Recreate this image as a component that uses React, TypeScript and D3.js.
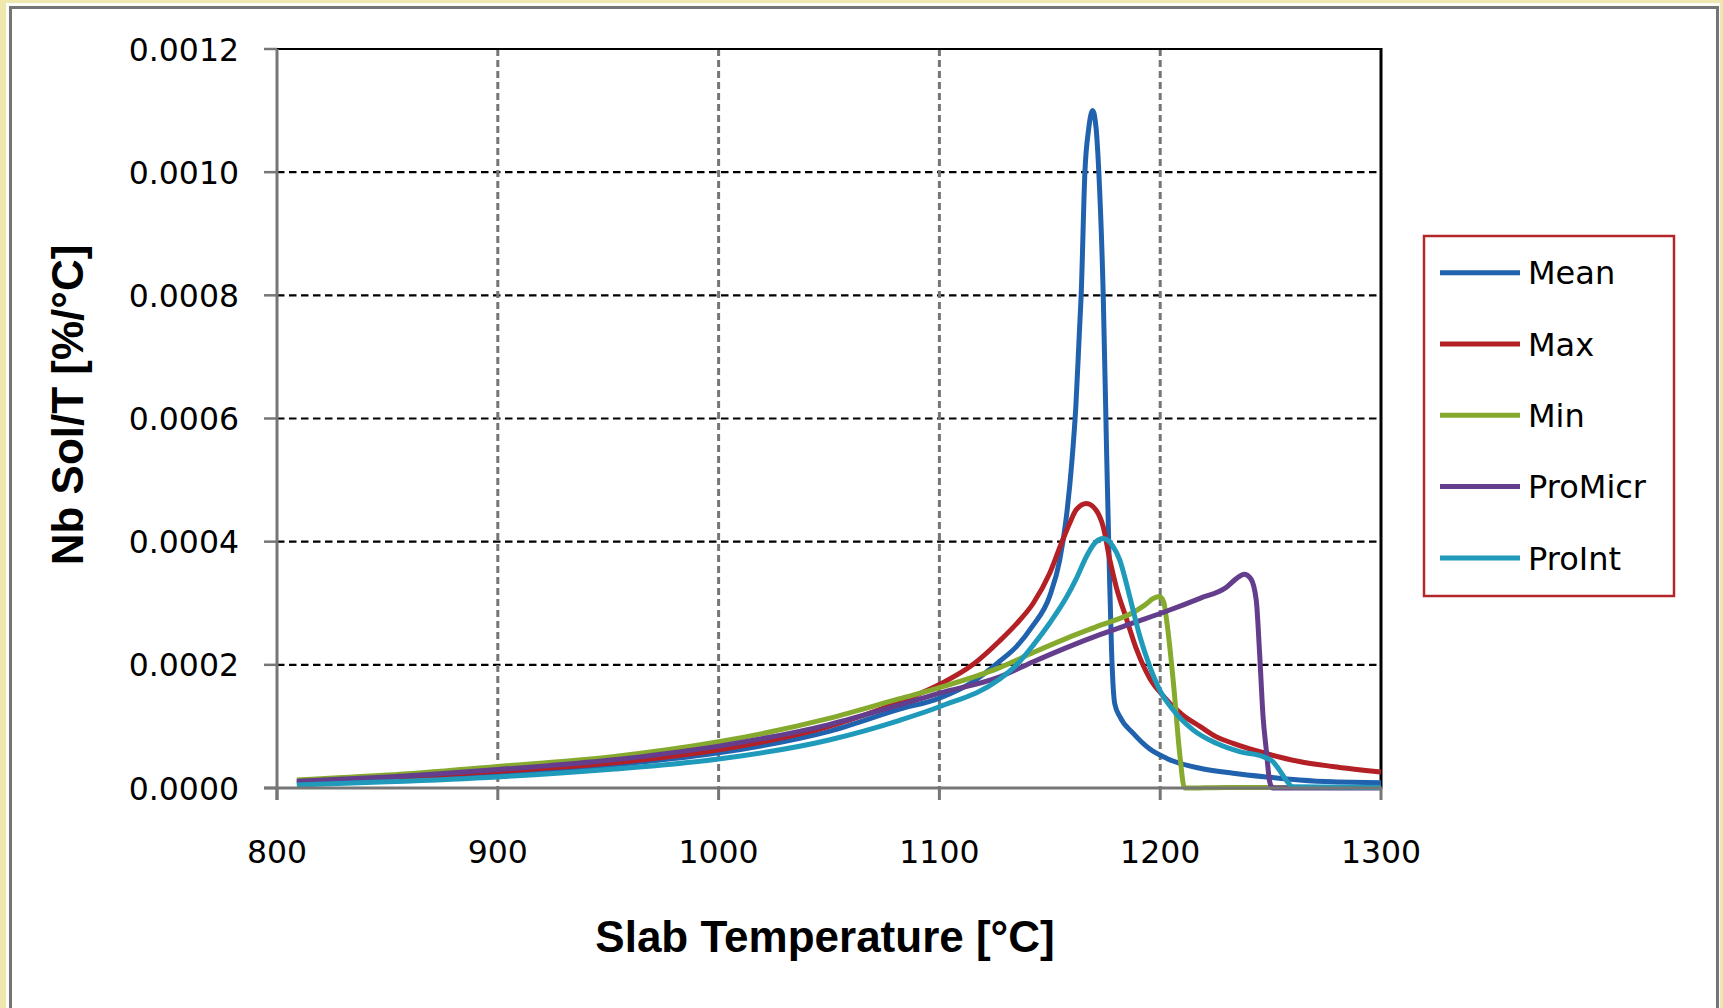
import React, { useEffect, useRef } from 'react';
import * as d3 from 'd3';

type Pt = [number, number];

const tempTicks = [800, 900, 1000, 1100, 1200, 1300];
const solTicks = [0, 0.0002, 0.0004, 0.0006, 0.0008, 0.001, 0.0012];

// [temperature °C, Nb sol/T %/°C]
const meanPts: Pt[] = [
  [809, 0.000008], [850, 0.000014], [900, 0.000024], [950, 0.000037], [1000, 0.000057],
  [1050, 0.000092], [1082, 0.000128], [1100, 0.000146], [1115, 0.000172], [1127, 0.000205],
  [1135, 0.00023], [1142, 0.000262], [1150, 0.000312], [1154.5, 0.00037], [1157.5, 0.00044],
  [1160, 0.00053], [1161.8, 0.00062], [1163.4, 0.00074], [1164.2, 0.0008], [1165.9, 0.001],
  [1167.6, 0.00107], [1169.4, 0.0011], [1171, 0.00107], [1172.2, 0.001], [1174.2, 0.0008],
  [1175.7, 0.00055], [1177, 0.00035], [1178, 0.00022], [1179.4, 0.000137], [1181.7, 0.000116],
  [1187.7, 0.000089], [1195, 0.000064], [1203, 0.000048], [1218, 0.000032], [1233, 0.000024],
  [1248, 0.000018], [1263, 0.000013], [1278, 0.00001], [1300, 0.0000087]
];
const maxPts: Pt[] = [
  [809, 0.0000095], [850, 0.000016], [900, 0.000027], [950, 0.00004], [1000, 0.000062],
  [1050, 0.0001], [1082, 0.00014], [1100, 0.000168], [1115, 0.0002], [1127, 0.000238],
  [1135, 0.000267], [1142.5, 0.0003], [1150, 0.000349], [1155, 0.000395], [1159, 0.00043],
  [1162, 0.000452], [1166.6, 0.000462], [1171, 0.000451], [1174.2, 0.000424], [1177.2, 0.00037],
  [1180.2, 0.000325], [1184.7, 0.000275], [1189.3, 0.000225], [1195.3, 0.000178], [1200, 0.000155],
  [1210, 0.000119], [1218, 0.0001], [1225.5, 0.000083], [1233, 0.0000725], [1248, 0.000056],
  [1263, 0.000043], [1278, 0.000035], [1300, 0.000026]
];
const minPts: Pt[] = [
  [809, 0.000013], [850, 0.000021], [900, 0.000035], [950, 0.00005], [1000, 0.000075],
  [1050, 0.000113], [1082, 0.000145], [1100, 0.000163], [1127, 0.000195], [1142.5, 0.00022],
  [1157.6, 0.000243], [1172.7, 0.000264], [1187.7, 0.000285], [1193, 0.000297], [1197, 0.000308],
  [1199.5, 0.000311], [1201.5, 0.000303], [1203, 0.00027], [1206, 0.00017], [1209, 0.00005],
  [1211, 0], [1230, 0.000001], [1300, 0.000001]
];
const proMicrPts: Pt[] = [
  [809, 0.000011], [850, 0.000018], [900, 0.00003], [950, 0.000045], [1000, 0.000068],
  [1050, 0.000103], [1082, 0.000135], [1100, 0.000154], [1127, 0.00018], [1142.5, 0.000205],
  [1157.6, 0.000228], [1172.7, 0.000249], [1187.7, 0.000268], [1202.8, 0.000287], [1218, 0.000308],
  [1230, 0.000326], [1234.5, 0.00034], [1238, 0.000347], [1241, 0.00034], [1243.5, 0.000305],
  [1245, 0.00022], [1246.6, 0.000115], [1248.1, 0.00006], [1249.6, 0.00001], [1251, 0], [1300, 0]
];
const proIntPts: Pt[] = [
  [809, 0.000005], [850, 0.00001], [900, 0.000018], [950, 0.00003], [1000, 0.000047],
  [1050, 0.000078], [1082, 0.00011], [1100, 0.000132], [1127, 0.000176], [1135, 0.0002],
  [1142.5, 0.000232], [1150, 0.000268], [1157.6, 0.00031], [1162, 0.00034], [1166.6, 0.000376],
  [1170.4, 0.000398], [1174.2, 0.000405], [1178.7, 0.000392], [1181.7, 0.00037], [1184.7, 0.000332],
  [1187.7, 0.000289], [1190.8, 0.000246], [1195.3, 0.000197], [1199.8, 0.000159], [1205.8, 0.000127],
  [1215, 0.000094], [1225.5, 0.0000725], [1236, 0.000059], [1246.6, 0.000051], [1251, 0.000043],
  [1254, 0.000029], [1257, 0.000013], [1260, 0.000002], [1300, 0.000001]
];

const seriesNames = ['Mean', 'Max', 'Min', 'ProMicr', 'ProInt'];
const seriesPts = [meanPts, maxPts, minPts, proMicrPts, proIntPts];
const colors = ['#2162ae', '#b32025', '#86aa2e', '#643e8c', '#1f9abb'];

const W = 1723;
const H = 1008;
const tickFont = '"DejaVu Sans", Verdana, sans-serif';
const titleFont = '"Liberation Sans", Arial, sans-serif';

const App = () => {
  const svgRef = useRef<SVGSVGElement | null>(null);

  useEffect(() => {
    if (!svgRef.current) return;
    const svg = d3.select(svgRef.current);
    svg.selectAll('*').remove();

    const plot = { left: 277, right: 1381, top: 49, bottom: 788 };
    const x = d3.scaleLinear().domain([800, 1300]).range([plot.left, plot.right]);
    const y = d3.scaleLinear().domain([0, 0.0012]).range([plot.bottom, plot.top]);

    // frame
    svg.append('rect').attr('width', W).attr('height', H).attr('fill', '#efe7ad');
    svg.append('rect').attr('x', 6).attr('y', 3).attr('width', W - 9).attr('height', H + 10).attr('fill', '#fdfdf8');
    svg.append('rect')
      .attr('x', 10.5).attr('y', 7.5).attr('width', 1707).attr('height', H + 20)
      .attr('fill', '#fff').attr('stroke', '#757575').attr('stroke-width', 3);

    // horizontal gridlines
    svg.append('g')
      .selectAll('line')
      .data(solTicks.filter(d => d > 0 && d < 0.0012))
      .join('line')
      .attr('x1', plot.left).attr('x2', plot.right)
      .attr('y1', d => y(d)).attr('y2', d => y(d))
      .attr('stroke', '#000').attr('stroke-width', 2.2)
      .attr('stroke-dasharray', '7.5,4.5');

    // vertical gridlines
    svg.append('g')
      .selectAll('line')
      .data(tempTicks.filter(d => d > 800 && d < 1300))
      .join('line')
      .attr('x1', d => x(d)).attr('x2', d => x(d))
      .attr('y1', plot.top).attr('y2', plot.bottom)
      .attr('stroke', '#767676').attr('stroke-width', 3)
      .attr('stroke-dasharray', '7,4');

    // plot border (top + right black)
    svg.append('line')
      .attr('x1', plot.left).attr('x2', plot.right)
      .attr('y1', plot.top).attr('y2', plot.top)
      .attr('stroke', '#000').attr('stroke-width', 2);
    svg.append('line')
      .attr('x1', plot.right).attr('x2', plot.right)
      .attr('y1', plot.top - 1).attr('y2', plot.bottom)
      .attr('stroke', '#000').attr('stroke-width', 3);

    // series
    const line = d3.line<Pt>()
      .x(d => x(d[0]))
      .y(d => y(d[1]))
      .curve(d3.curveMonotoneX);

    seriesPts.forEach((pts, i) => {
      svg.append('path')
        .datum(pts)
        .attr('fill', 'none')
        .attr('stroke', colors[i])
        .attr('stroke-width', 5)
        .attr('stroke-linejoin', 'round')
        .attr('d', line);
    });

    // axes
    const axisColor = '#767676';
    svg.append('line')
      .attr('x1', plot.left).attr('x2', plot.left)
      .attr('y1', plot.top).attr('y2', plot.bottom + 12)
      .attr('stroke', axisColor).attr('stroke-width', 3);
    svg.append('line')
      .attr('x1', plot.left - 13).attr('x2', plot.right + 1.5)
      .attr('y1', plot.bottom).attr('y2', plot.bottom)
      .attr('stroke', axisColor).attr('stroke-width', 3);

    svg.append('g')
      .selectAll('line')
      .data(solTicks)
      .join('line')
      .attr('x1', plot.left - 13).attr('x2', plot.left)
      .attr('y1', d => y(d)).attr('y2', d => y(d))
      .attr('stroke', axisColor).attr('stroke-width', 2.5);

    svg.append('g')
      .selectAll('line')
      .data(tempTicks)
      .join('line')
      .attr('x1', d => x(d)).attr('x2', d => x(d))
      .attr('y1', plot.bottom).attr('y2', plot.bottom + 12)
      .attr('stroke', axisColor).attr('stroke-width', 3);

    svg.append('g')
      .selectAll('text')
      .data(solTicks)
      .join('text')
      .attr('x', 239)
      .attr('y', d => y(d) + 11.5)
      .attr('text-anchor', 'end')
      .style('font-family', tickFont)
      .style('font-size', '31.5px')
      .attr('fill', '#000')
      .text(d => d3.format('.4f')(d));

    svg.append('g')
      .selectAll('text')
      .data(tempTicks)
      .join('text')
      .attr('x', d => x(d))
      .attr('y', 863)
      .attr('text-anchor', 'middle')
      .style('font-family', tickFont)
      .style('font-size', '31.5px')
      .attr('fill', '#000')
      .text(d => String(d));

    // axis titles
    svg.append('text')
      .attr('x', 825)
      .attr('y', 952)
      .attr('text-anchor', 'middle')
      .style('font-family', titleFont)
      .style('font-weight', 'bold')
      .style('font-size', '44px')
      .text('Slab Temperature [°C]');

    svg.append('text')
      .attr('transform', 'translate(83,405) rotate(-90)')
      .attr('text-anchor', 'middle')
      .style('font-family', titleFont)
      .style('font-weight', 'bold')
      .style('font-size', '44px')
      .text('Nb Sol/T [%/°C]');

    // legend
    const legend = svg.append('g');
    legend.append('rect')
      .attr('x', 1424).attr('y', 236).attr('width', 250).attr('height', 360)
      .attr('fill', '#fff').attr('stroke', '#b3262a').attr('stroke-width', 2.5);

    seriesNames.forEach((name, i) => {
      const ly = 272.7 + i * 71.3;
      legend.append('line')
        .attr('x1', 1440).attr('x2', 1520)
        .attr('y1', ly).attr('y2', ly)
        .attr('stroke', colors[i]).attr('stroke-width', 5);
      legend.append('text')
        .attr('x', 1528)
        .attr('y', ly + 11.7)
        .style('font-family', tickFont)
        .style('font-size', '32px')
        .attr('fill', '#000')
        .text(name);
    });
  }, []);

  return (
    <svg
      ref={svgRef}
      width={W}
      height={H}
      style={{ position: 'absolute', left: 0, top: 0, display: 'block' }}
    />
  );
};

export default App;
